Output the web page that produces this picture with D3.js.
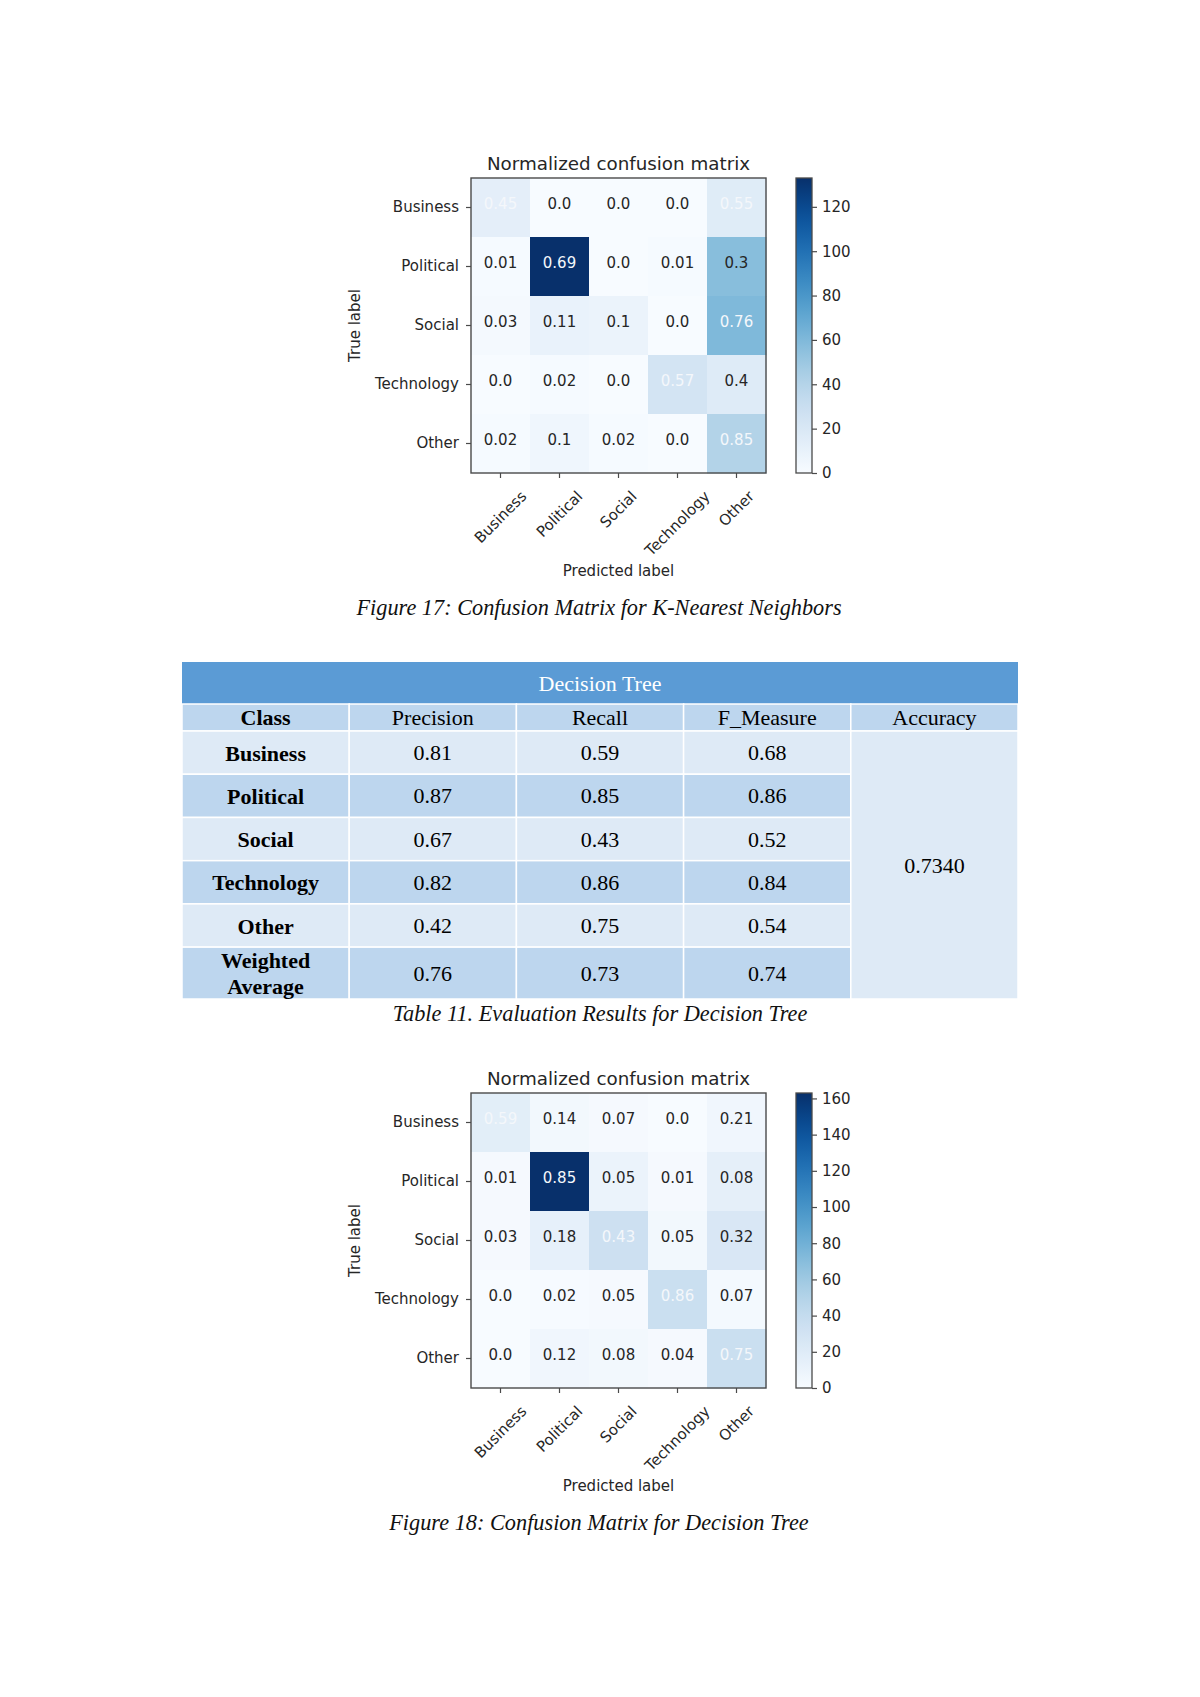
<!DOCTYPE html>
<html>
<head>
<meta charset="utf-8">
<script src="https://cdn.jsdelivr.net/npm/d3@7"></script>
<style>
  body { margin: 0; background: #fff; }
  svg { display: block; }
</style>
</head>
<body>
<div id="page"></div>
<script>
// ---- data ----
const classes = ["Business", "Political", "Social", "Technology", "Other"];

// normalized values shown in the cells (K-Nearest Neighbors)
const knnNorm = [
  [0.45, 0.0, 0.0, 0.0, 0.55],
  [0.01, 0.69, 0.0, 0.01, 0.3],
  [0.03, 0.11, 0.1, 0.0, 0.76],
  [0.0, 0.02, 0.0, 0.57, 0.4],
  [0.02, 0.1, 0.02, 0.0, 0.85]
];
// raw counts that drive the colour (estimated from the colour bar)
const knnCounts = [
  [13, 0, 0, 0, 16],
  [1, 133, 0, 1, 57],
  [2, 9, 8, 0, 60],
  [0, 1, 0, 24, 17],
  [1, 5, 1, 0, 41]
];
const knnTicks = [0, 20, 40, 60, 80, 100, 120];

// Decision Tree
const dtNorm = [
  [0.59, 0.14, 0.07, 0.0, 0.21],
  [0.01, 0.85, 0.05, 0.01, 0.08],
  [0.03, 0.18, 0.43, 0.05, 0.32],
  [0.0, 0.02, 0.05, 0.86, 0.07],
  [0.0, 0.12, 0.08, 0.04, 0.75]
];
const dtCounts = [
  [17, 4, 2, 0, 6],
  [2, 163, 10, 2, 15],
  [2, 14, 34, 4, 25],
  [0, 1, 2, 36, 3],
  [0, 6, 4, 2, 36]
];
const dtTicks = [0, 20, 40, 60, 80, 100, 120, 140, 160];

// table 11
const tableTitle = "Decision Tree";
const tableColumns = ["Class", "Precision", "Recall", "F_Measure", "Accuracy"];
const tableClasses = ["Business", "Political", "Social", "Technology", "Other", "Weighted Average"];
const precision = [0.81, 0.87, 0.67, 0.82, 0.42, 0.76];
const recall = [0.59, 0.85, 0.43, 0.86, 0.75, 0.73];
const fMeasure = [0.68, 0.86, 0.52, 0.84, 0.54, 0.74];
const accuracy = "0.7340";

// ---- page ----
const width = 1200, height = 1697;
const svg = d3.select("#page").append("svg")
  .attr("width", width)
  .attr("height", height)
  .attr("viewBox", [0, 0, width, height]);

svg.append("rect").attr("width", width).attr("height", height).attr("fill", "#fff");

const mplFont = "DejaVu Sans";
const serif = "Liberation Serif, Times New Roman, serif";
const textDark = "#262626";
const frame = "#4a4a4a";
const tickSize = 15;

const fmtCell = (v) => (v === 0 ? "0.0" : String(v));

function confusionMatrix(top, norm, counts, ticks, caption) {
  const left = 471, size = 295;
  const g = svg.append("g");
  const vmax = d3.max(counts.flat());
  const color = d3.scaleSequential(d3.interpolateBlues).domain([0, vmax]);

  const x = d3.scaleBand(classes, [left, left + size]);
  const y = d3.scaleBand(classes, [top, top + size]);

  // threshold for white text, same rule as the sklearn example
  const rowNorm = counts.map((r) => r.map((c) => c / d3.sum(r)));
  const thresh = d3.max(rowNorm.flat()) / 2;

  const cells = [];
  classes.forEach((rc, i) => classes.forEach((cc, j) => cells.push({ i, j, rc, cc })));

  g.append("g")
    .selectAll("rect")
    .data(cells)
    .join("rect")
    .attr("x", (d) => x(d.cc))
    .attr("y", (d) => y(d.rc))
    .attr("width", x.bandwidth() + 0.5)
    .attr("height", y.bandwidth() + 0.5)
    .attr("fill", (d) => color(counts[d.i][d.j]));

  // baseline sits on the cell centre, as in matplotlib's default
  g.append("g")
    .selectAll("text")
    .data(cells)
    .join("text")
    .attr("x", (d) => x(d.cc) + x.bandwidth() / 2)
    .attr("y", (d) => y(d.rc) + y.bandwidth() / 2 + 1)
    .attr("text-anchor", "middle")
    .attr("font-family", mplFont)
    .attr("font-size", tickSize)
    .attr("fill", (d) => (rowNorm[d.i][d.j] > thresh ? "#f4f7fb" : textDark))
    .text((d) => fmtCell(norm[d.i][d.j]));

  // frame
  g.append("rect")
    .attr("x", left).attr("y", top)
    .attr("width", size).attr("height", size)
    .attr("fill", "none")
    .attr("stroke", frame)
    .attr("stroke-width", 1.4);

  // y axis
  g.append("g")
    .attr("transform", `translate(${left},0)`)
    .call(d3.axisLeft(y).tickSize(5).tickPadding(7))
    .call((a) => a.select(".domain").remove())
    .call((a) => a.selectAll("line").attr("stroke", frame).attr("stroke-width", 1.2))
    .call((a) => a.selectAll("text")
      .attr("font-family", mplFont)
      .attr("font-size", tickSize)
      .attr("fill", textDark));

  // x axis with 45 degree labels, centred on the tick
  g.append("g")
    .attr("transform", `translate(0,${top + size})`)
    .call(d3.axisBottom(x).tickSize(5).tickFormat(""))
    .call((a) => a.select(".domain").remove())
    .call((a) => a.selectAll("line").attr("stroke", frame).attr("stroke-width", 1.2));

  g.append("g")
    .selectAll("text")
    .data(classes)
    .join("text")
    .attr("font-family", mplFont)
    .attr("font-size", tickSize)
    .attr("fill", textDark)
    .attr("text-anchor", "middle")
    .attr("dominant-baseline", "central")
    .text((d) => d)
    .each(function (d) {
      const w = this.getComputedTextLength();
      const h = 10.5;
      const cy = top + size + 17 + (w + h) * Math.SQRT1_2 / 2;
      d3.select(this).attr("transform", `translate(${x(d) + x.bandwidth() / 2},${cy}) rotate(-45)`);
    });

  // title and axis titles
  g.append("text")
    .attr("x", left + size / 2)
    .attr("y", top - 15)
    .attr("text-anchor", "middle")
    .attr("dominant-baseline", "central")
    .attr("font-family", mplFont)
    .attr("font-size", 18.3)
    .attr("fill", textDark)
    .text("Normalized confusion matrix");

  g.append("text")
    .attr("transform", `translate(355,${top + size / 2}) rotate(-90)`)
    .attr("text-anchor", "middle")
    .attr("dominant-baseline", "central")
    .attr("font-family", mplFont)
    .attr("font-size", tickSize)
    .attr("fill", textDark)
    .text("True label");

  g.append("text")
    .attr("x", left + size / 2)
    .attr("y", top + size + 98)
    .attr("text-anchor", "middle")
    .attr("dominant-baseline", "central")
    .attr("font-family", mplFont)
    .attr("font-size", tickSize)
    .attr("fill", textDark)
    .text("Predicted label");

  // colour bar
  const cbx = 796, cbw = 16;
  const cy = d3.scaleLinear([0, vmax], [top + size, top]);
  const gid = "grad" + top;
  const grad = svg.append("defs").append("linearGradient")
    .attr("id", gid)
    .attr("x1", "0%").attr("y1", "100%")
    .attr("x2", "0%").attr("y2", "0%");
  d3.range(0, 1.0001, 0.05).forEach((t) => {
    grad.append("stop")
      .attr("offset", `${t * 100}%`)
      .attr("stop-color", d3.interpolateBlues(t));
  });
  g.append("rect")
    .attr("x", cbx).attr("y", top)
    .attr("width", cbw).attr("height", size)
    .attr("fill", `url(#${gid})`)
    .attr("stroke", frame)
    .attr("stroke-width", 1.3);

  g.append("g")
    .attr("transform", `translate(${cbx + cbw},0)`)
    .call(d3.axisRight(cy).tickValues(ticks).tickSize(5).tickPadding(5).tickFormat(d3.format("d")))
    .call((a) => a.select(".domain").remove())
    .call((a) => a.selectAll("line").attr("stroke", frame).attr("stroke-width", 1.2))
    .call((a) => a.selectAll("text")
      .attr("font-family", mplFont)
      .attr("font-size", tickSize)
      .attr("fill", textDark));

  // caption
  svg.append("text")
    .attr("x", 599)
    .attr("y", top + size + 134)
    .attr("text-anchor", "middle")
    .attr("dominant-baseline", "central")
    .attr("font-family", serif)
    .attr("font-style", "italic")
    .attr("font-size", 22.3)
    .attr("fill", "#111")
    .text(caption);
}

confusionMatrix(178, knnNorm, knnCounts, knnTicks, "Figure 17: Confusion Matrix for K-Nearest Neighbors");
confusionMatrix(1093, dtNorm, dtCounts, dtTicks, "Figure 18: Confusion Matrix for Decision Tree");

// ---- table ----
const tLeft = 182, tRight = 1018;
const headTop = 662, headBottom = 704;
const colTop = 704, colBottom = 731;
const bodyTop = 731, bodyBottom = 999;
const lightFill = "#deeaf6", darkFill = "#bdd6ee", headFill = "#5b9bd5";
const tableFont = 22;

const tx = d3.scaleBand(tableColumns, [tLeft, tRight]);
// weighted average row is a bit taller than the others
const rowUnits = tableClasses.map((d) => (d.includes(" ") ? 1.2 : 1));
const rowEdge = d3.scaleLinear([0, d3.sum(rowUnits)], [bodyTop, bodyBottom]);
const rowStart = d3.cumsum([0, ...rowUnits]);

const tg = svg.append("g");

tg.append("rect")
  .attr("x", tLeft).attr("y", headTop)
  .attr("width", tRight - tLeft).attr("height", headBottom - headTop)
  .attr("fill", headFill);
tg.append("text")
  .attr("x", (tLeft + tRight) / 2)
  .attr("y", (headTop + headBottom) / 2)
  .attr("text-anchor", "middle")
  .attr("dominant-baseline", "central")
  .attr("font-family", serif)
  .attr("font-size", tableFont)
  .attr("fill", "#fff")
  .text(tableTitle);

// column header row
tg.append("g")
  .selectAll("rect")
  .data(tableColumns)
  .join("rect")
  .attr("x", (d) => tx(d))
  .attr("y", colTop)
  .attr("width", tx.bandwidth())
  .attr("height", colBottom - colTop)
  .attr("fill", darkFill)
  .attr("stroke", "#fff")
  .attr("stroke-width", 1.5);
tg.append("g")
  .selectAll("text")
  .data(tableColumns)
  .join("text")
  .attr("x", (d) => tx(d) + tx.bandwidth() / 2)
  .attr("y", (colTop + colBottom) / 2)
  .attr("text-anchor", "middle")
  .attr("dominant-baseline", "central")
  .attr("font-family", serif)
  .attr("font-size", tableFont)
  .attr("font-weight", (d, i) => (i === 0 ? 700 : 400))
  .attr("fill", "#000")
  .text((d) => d);

// body rows
const bodyCols = [tableClasses, precision, recall, fMeasure];
const fmt2 = d3.format(".2f");
tableClasses.forEach((cls, r) => {
  const y0 = rowEdge(rowStart[r]);
  const y1 = rowEdge(rowStart[r + 1]);
  const fill = r % 2 === 0 ? lightFill : darkFill;
  bodyCols.forEach((col, c) => {
    const name = tableColumns[c];
    tg.append("rect")
      .attr("x", tx(name)).attr("y", y0)
      .attr("width", tx.bandwidth()).attr("height", y1 - y0)
      .attr("fill", fill)
      .attr("stroke", "#fff")
      .attr("stroke-width", 1.5);
    const t = tg.append("text")
      .attr("x", tx(name) + tx.bandwidth() / 2)
      .attr("y", (y0 + y1) / 2)
      .attr("text-anchor", "middle")
      .attr("dominant-baseline", "central")
      .attr("font-family", serif)
      .attr("font-size", tableFont)
      .attr("font-weight", c === 0 ? 700 : 400)
      .attr("fill", "#000");
    if (c === 0) {
      const words = cls.split(" ");
      words.forEach((w, k) => {
        t.append("tspan")
          .attr("x", tx(name) + tx.bandwidth() / 2)
          .attr("dy", k === 0 ? `${-(words.length - 1) * 0.58}em` : "1.16em")
          .text(w);
      });
    } else {
      t.text(fmt2(col[r]));
    }
  });
});

// merged accuracy cell
tg.append("rect")
  .attr("x", tx("Accuracy")).attr("y", bodyTop)
  .attr("width", tx.bandwidth()).attr("height", bodyBottom - bodyTop)
  .attr("fill", lightFill)
  .attr("stroke", "#fff")
  .attr("stroke-width", 1.5);
tg.append("text")
  .attr("x", tx("Accuracy") + tx.bandwidth() / 2)
  .attr("y", (bodyTop + bodyBottom) / 2)
  .attr("text-anchor", "middle")
  .attr("dominant-baseline", "central")
  .attr("font-family", serif)
  .attr("font-size", tableFont)
  .attr("fill", "#000")
  .text(accuracy);

svg.append("text")
  .attr("x", 600)
  .attr("y", 1013)
  .attr("text-anchor", "middle")
  .attr("dominant-baseline", "central")
  .attr("font-family", serif)
  .attr("font-style", "italic")
  .attr("font-size", 22.3)
  .attr("fill", "#111")
  .text("Table 11. Evaluation Results for Decision Tree");
</script>
</body>
</html>
